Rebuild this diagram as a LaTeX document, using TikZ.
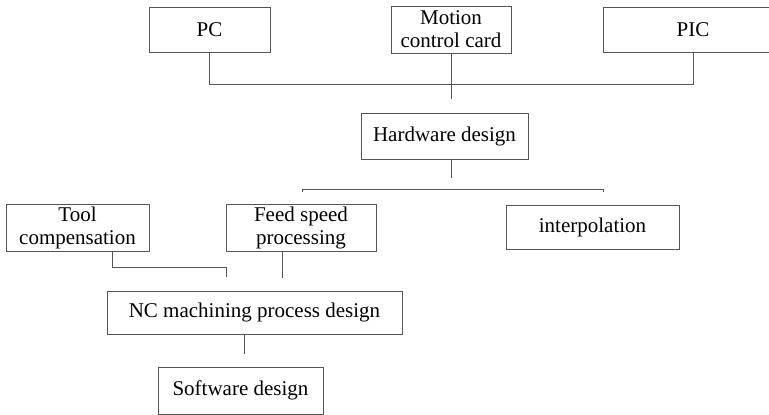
\documentclass[tikz,border=0pt]{standalone}
\usepackage{fontspec}
\setmainfont{Liberation Serif}
\usetikzlibrary{positioning}
\definecolor{linegray}{RGB}{85,85,85}

\begin{document}
\begin{tikzpicture}[
        x=1pt, y=-1pt,
        block/.style={rectangle, draw=linegray, line width=1pt, inner sep=0pt,
                      align=center, font=\fontsize{21}{23}\selectfont},
        link/.style={draw=linegray, line width=1pt},
    ]
        \clip (0,0) rectangle (769,415);

        \node[block, minimum width=121pt, minimum height=45pt] (pc) at (209.5,30) {PC};
        \node[block, minimum width=120pt, minimum height=47pt] (card) at (451,29.5) {Motion\\control card};
        \node[block, minimum width=180pt, minimum height=45pt] (pic) at (693,29.5) {PIC};
        \node[block, minimum width=167pt, minimum height=46pt] (hw) at (444.5,136) {Hardware design};
        \node[block, minimum width=143pt, minimum height=47pt] (tool) at (77.5,227.5) {Tool\\compensation};
        \node[block, minimum width=150pt, minimum height=47pt] (feed) at (301,227.5) {Feed speed\\processing};
        \node[block, minimum width=173pt, minimum height=44pt] (interp) at (592.5,227) {interpolation};
        \node[block, minimum width=295pt, minimum height=43pt] (nc) at (254.5,312.5) {NC machining process design};
        \node[block, minimum width=165pt, minimum height=47pt] (sw) at (240.5,390.5) {Software design};

        \coordinate (brl) at (302,189);
        \coordinate (brr) at (603,189);
        \coordinate (toolend) at (226,277);

        \draw[link] (pc.south) -- ++(0,31) -| (pic.south);
        \draw[link] (card.south) -- ++(0,45);
        \draw[link] (hw.south -| card.south) -- ++(0,18);
        \draw[link] ([yshift=-3pt]brl) -- (brl) -- (brr) -- ([yshift=-3pt]brr);
        \draw[link] ([xshift=34.5pt]tool.south) -- ++(0,16) -| (toolend);
        \draw[link] ([xshift=-19pt]feed.south) -- ++(0,26);
        \draw[link] ([xshift=-10.5pt]nc.south) -- ++(0,19);

    \end{tikzpicture}
\end{document}
